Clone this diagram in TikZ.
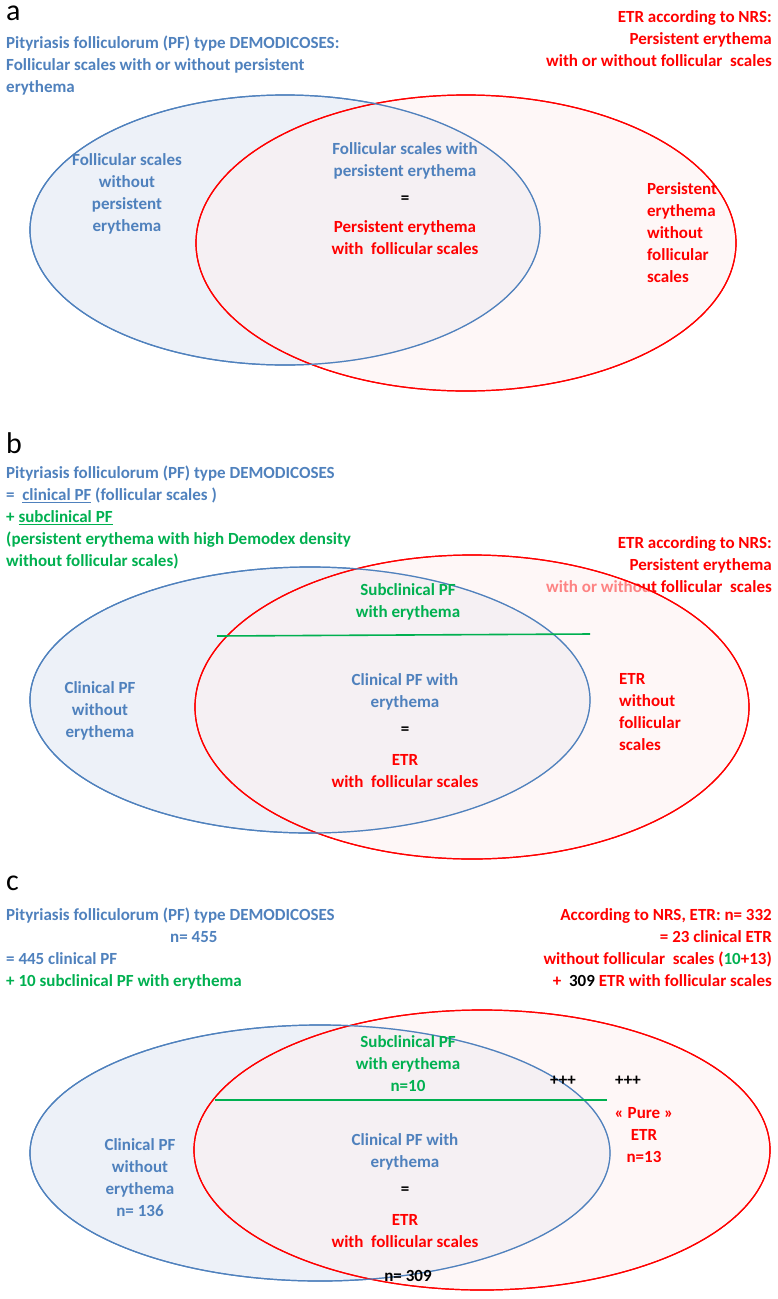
\documentclass[tikz,border=0pt]{standalone}
\usepackage{fontspec}
\setmainfont{Carlito}
\newcommand\myul[1]{\underline{#1}}
\definecolor{bl}{HTML}{4F81BD}
\definecolor{rd}{HTML}{FF0000}
\definecolor{gr}{HTML}{00B050}
\definecolor{blf}{HTML}{EDF1F8}
\definecolor{rdf}{HTML}{FDF0F0}
\begin{document}
\begin{tikzpicture}[x=1pt,y=-1pt,
 t/.style={font=\bfseries\fontsize{17}{22}\selectfont,align=center,inner sep=0},
 tb/.style={t,text=bl}, tr/.style={t,text=rd}, tg/.style={t,text=gr},
 lab/.style={font=\fontsize{30}{32}\selectfont,inner sep=0,anchor=north west},
 be/.style={draw=bl,line width=1.2pt,fill=blf},
 re/.style={draw=rd,line width=1.2pt,fill=rdf,fill opacity=0.55},
 gl/.style={draw=gr,line width=1.6pt}]
\useasboundingbox (0,0) rectangle (777,1299);
% ---------- a
\node[lab] (la) at (6,6) {a};
\node[tb,align=left,anchor=north west] (ta) at (6,36) {Pityriasis folliculorum (PF) type DEMODICOSES:\\Follicular scales with or without persistent\\erythema};
\node[tr,align=right,anchor=north east] (tra) at (772,10) {ETR according to NRS:\\Persistent erythema\\with or without follicular\ \ scales};
\path[be] (285,230) ellipse (255 and 135);
\path[re] (466,243) ellipse (270 and 148);
\draw[rd,line width=1.2pt] (466,243) ellipse (270 and 148);
\draw[bl,line width=1.2pt] (285,230) ellipse (255 and 135);
\node[tb] (a1) at (127,194) {Follicular scales\\without\\persistent\\erythema};
\node[tb] (a2) at (405,161) {Follicular scales with\\persistent erythema};
\node[t] (a3) at (405,200) {=};
\node[tr] (a4) at (405,238) {Persistent erythema\\with\ \ follicular scales};
\node[tr,align=left] (a5) at (682,233) {Persistent\\erythema\\without\\follicular\\scales};
% ---------- b
\node[lab] (lb) at (6,432) {b};
\node[t,align=left,anchor=north west] (tb1) at (6,466) {\textcolor{bl}{Pityriasis folliculorum (PF) type DEMODICOSES}\\
\textcolor{bl}{=\ \ \myul{clinical PF} (follicular scales )}\\
\textcolor{gr}{+ \myul{subclinical PF}}\\
\textcolor{gr}{(persistent erythema with high Demodex density}\\
\textcolor{gr}{without follicular scales)}};
\node[tr,align=right,anchor=north east] (trb) at (772,536) {ETR according to NRS:\\Persistent erythema\\with or without follicular\ \ scales};
\path[be] (310,700) ellipse (280 and 133);
\path[re] (472,707) ellipse (277 and 152);
\draw[rd,line width=1.2pt] (472,707) ellipse (277 and 152);
\draw[bl,line width=1.2pt] (310,700) ellipse (280 and 133);
\coordinate (g1) at (217,636); \coordinate (g2) at (590,634);
\draw[gl] (g1) -- (g2);
\node[tg] (b0) at (408,602) {Subclinical PF\\with erythema};
\node[tb] (b1) at (100,711) {Clinical PF\\without\\erythema};
\node[tb] (b2) at (405,692) {Clinical PF with\\erythema};
\node[t] (b3) at (405,731) {=};
\node[tr] (b4) at (405,771) {ETR\\with\ \ follicular scales};
\node[tr,align=left] (b5) at (650,712) {ETR\\without\\follicular\\scales};
% ---------- c
\node[lab] (lc) at (6,876) {c};
\node[t,align=left,anchor=north west] (tc1) at (6,908) {\textcolor{bl}{Pityriasis folliculorum (PF) type DEMODICOSES}\\
\textcolor{bl}{\hspace*{164pt}n= 455}\\
\textcolor{bl}{= 445 clinical PF}\\
\textcolor{gr}{+ 10 subclinical PF with erythema}};
\node[tr,align=right,anchor=north east] (trc) at (772,908) {According to NRS, ETR: n= 332\\= 23 clinical ETR\\without follicular\ \ scales (\textcolor{gr}{10}+13)\\+\ \ \textcolor{black}{309} ETR with follicular scales};
\path[be] (320,1153) ellipse (290 and 128);
\path[re] (482,1150) ellipse (288 and 140);
\draw[rd,line width=1.2pt] (482,1150) ellipse (288 and 140);
\draw[bl,line width=1.2pt] (320,1153) ellipse (290 and 128);
\coordinate (h1) at (215,1100); \coordinate (h2) at (607,1100);
\draw[gl] (h1) -- (h2);
\node[tg] (c0) at (408,1064) {Subclinical PF\\with erythema\\n=10};
\node[t] (c6) at (563,1081) {+++};
\node[t] (c7) at (628,1081) {+++};
\node[tb] (c1) at (140,1178) {Clinical PF\\without\\erythema\\n= 136};
\node[tb] (c2) at (405,1152) {Clinical PF with\\erythema};
\node[t] (c3) at (405,1191) {=};
\node[tr] (c4) at (405,1231) {ETR\\with\ \ follicular scales};
\node[t] (c8) at (408,1250) {};
\node[t] (c9) at (408,1276) {n= 309};
\node[tr] (c5) at (644,1135) {« Pure »\\ETR\\n=13};
\end{tikzpicture}
\end{document}
